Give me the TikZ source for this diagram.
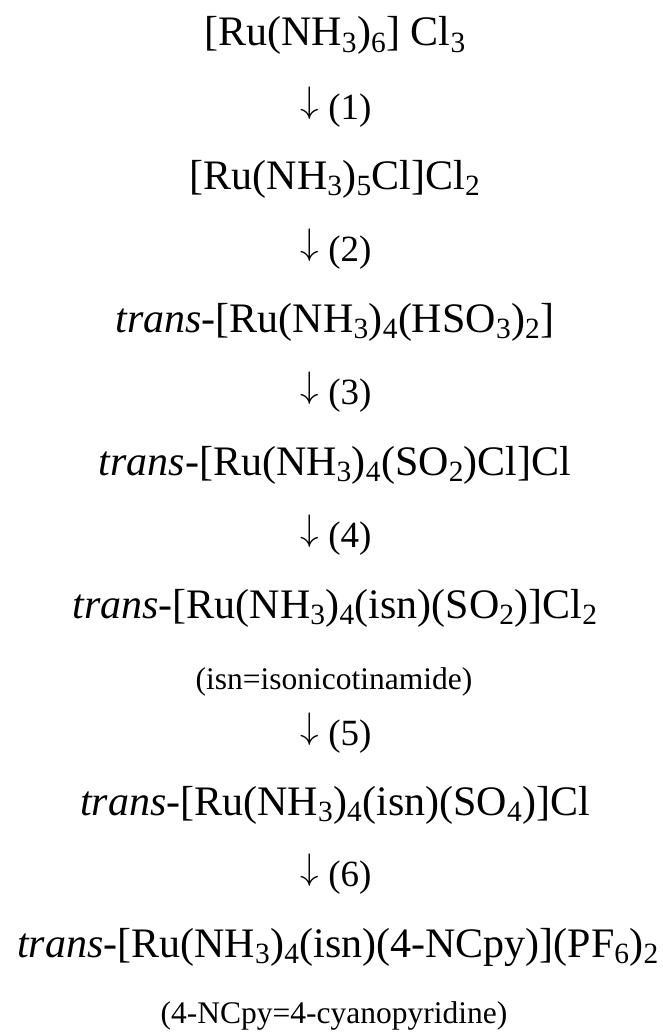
\RequirePackage{fix-cm}
\documentclass[tikz,border=0pt]{standalone}
\usepackage{fontspec}
\setmainfont{Liberation Serif}
\usepackage{tikz}
\usetikzlibrary{positioning}
\newcommand{\chemsub}[1]{\textsubscript{#1}}
\newcommand{\steparrow}{\raisebox{0.17em}{$\downarrow$}}
\tikzset{compound/.style={anchor=base, inner sep=0pt, font=\fontsize{42}{46}\selectfont},
	stepnode/.style={anchor=base, inner sep=0pt, font=\fontsize{37}{41}\selectfont},
	note/.style={anchor=base, inner sep=0pt, font=\fontsize{31.5}{35}\selectfont},}

\begin{document}
\begin{tikzpicture}[x=1pt, y=-1pt]
		\useasboundingbox (0,0) rectangle (662,1033);
		% Compounds
		\node[compound] (c1) at (335,46) {[Ru(NH\chemsub{3})\chemsub{6}] Cl\chemsub{3}};
		\node[compound] (c2) at (335,189) {[Ru(NH\chemsub{3})\chemsub{5}Cl]Cl\chemsub{2}};
		\node[compound] (c3) at (335,332) {\textit{trans}-[Ru(NH\chemsub{3})\chemsub{4}(HSO\chemsub{3})\chemsub{2}]};
		\node[compound] (c4) at (335,475) {\textit{trans}-[Ru(NH\chemsub{3})\chemsub{4}(SO\chemsub{2})Cl]Cl};
		\node[compound] (c5) at (335,618) {\textit{trans}-[Ru(NH\chemsub{3})\chemsub{4}(isn)(SO\chemsub{2})]Cl\chemsub{2}};
		\node[compound] (c6) at (335,815) {\textit{trans}-[Ru(NH\chemsub{3})\chemsub{4}(isn)(SO\chemsub{4})]Cl};
		\node[compound] (c7) at (338,957) {\textit{trans}-[Ru(NH\chemsub{3})\chemsub{4}(isn)(4-NCpy)](PF\chemsub{6})\chemsub{2}};
		% Notes
		\node[note] (n1) at (334,689) {(isn=isonicotinamide)};
		\node[note] (n2) at (334,1023) {(4-NCpy=4-cyanopyridine)};
		% Steps
		\node[stepnode] (s1) at (336,119) {\steparrow\ (1)};
		\node[stepnode] (s2) at (336,261) {\steparrow\ (2)};
		\node[stepnode] (s3) at (336,404) {\steparrow\ (3)};
		\node[stepnode] (s4) at (336,547) {\steparrow\ (4)};
		\node[stepnode] (s5) at (336,745) {\steparrow\ (5)};
		\node[stepnode] (s6) at (336,886) {\steparrow\ (6)};
	\end{tikzpicture}
\end{document}
